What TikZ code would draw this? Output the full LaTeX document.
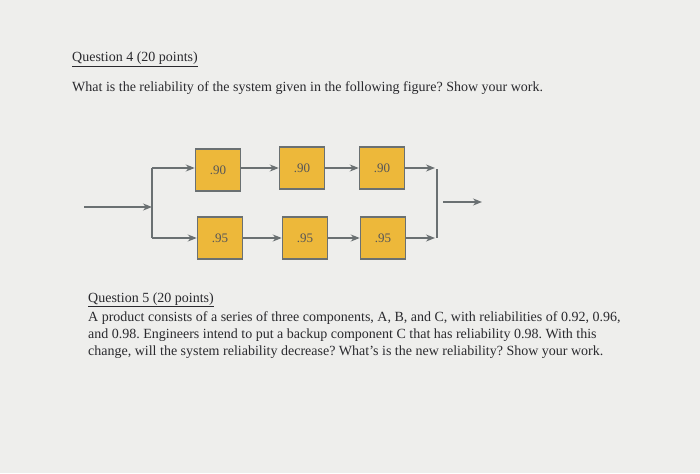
\documentclass[tikz,border=0pt]{standalone}
\usepackage{fontspec}
\setmainfont{Liberation Serif}
\usetikzlibrary{arrows.meta}
\definecolor{boxy}{HTML}{EDB83A}
\definecolor{edge}{HTML}{6A7072}
\definecolor{ink}{HTML}{2A2A2E}
\definecolor{paper}{HTML}{EEEEEC}
\begin{document}
\frenchspacing
\begin{tikzpicture}[x=1pt,y=-1pt,
  blk/.style={draw=edge,line width=1.5pt,fill=boxy,minimum width=45pt,minimum height=42pt,inner sep=0pt,font=\fontsize{13}{13}\selectfont,text=ink!80},
  wire/.style={draw=edge,line width=1.4pt},
  arr/.style={wire,-{Stealth[length=9pt,width=7pt]}},
  txt/.style={anchor=base west,inner sep=0pt,text=ink,font=\fontsize{14}{17}\selectfont}]
\fill[paper] (0,0) rectangle (700,473);
\node[txt] (q4) at (72,62) {\underline{Question 4 (20 points)}};
\node[txt] (q4t) at (72,92) {What is the reliability of the system given in the following figure? Show your work.};
% blocks
\node[blk] (a1) at (218,170) {.90};
\node[blk] (a2) at (302,168) {.90};
\node[blk] (a3) at (382,168) {.90};
\node[blk] (b1) at (220,238) {.95};
\node[blk] (b2) at (305,238) {.95};
\node[blk] (b3) at (383,238) {.95};
\coordinate (in) at (84,207);
\coordinate (sp) at (152,207);
\coordinate (spt) at (152,168);
\coordinate (spb) at (152,238);
\coordinate (ot) at (435,168);
\coordinate (ob) at (435,238);
\coordinate (jt) at (437,169);
\coordinate (jb) at (437,238);
\coordinate (os) at (443,202);
\coordinate (oe) at (482,202);
\draw[arr] (in) -- (sp);
\draw[wire] (spt) -- (spb);
\draw[arr] (spt) -- (a1.west|-spt);
\draw[arr] (spb) -- (b1.west|-spb);
\draw[arr] (a1.east|-spt) -- (a2.west|-spt);
\draw[arr] (a2) -- (a3);
\draw[arr] (b1) -- (b2);
\draw[arr] (b2) -- (b3);
\draw[arr] (a3.east|-ot) -- (ot);
\draw[arr] (b3.east|-ob) -- (ob);
\draw[wire] (jt) -- (jb);
\draw[arr] (os) -- (oe);
\node[txt] (q5) at (88,302) {\underline{Question 5 (20 points)}};
\node[txt,align=left,anchor=north west] (q5t) at (88,311) {A product consists of a series of three components, A, B, and C, with reliabilities of 0.92, 0.96,\\
and 0.98. Engineers intend to put a backup component C that has reliability 0.98. With this\\
change, will the system reliability decrease? What's is the new reliability? Show your work.};
\end{tikzpicture}
\end{document}
